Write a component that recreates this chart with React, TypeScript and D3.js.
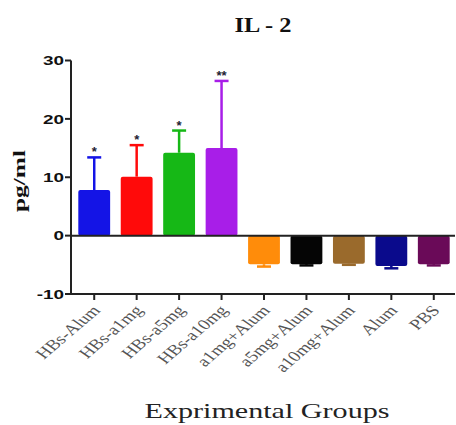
import React from 'react';
import * as d3 from 'd3';

const groups = ['HBs-Alum', 'HBs-a1mg', 'HBs-a5mg', 'HBs-a10mg', 'a1mg+Alum', 'a5mg+Alum', 'a10mg+Alum', 'Alum', 'PBS'];
const means = [7.8, 10.1, 14.2, 15.0, -4.9, -4.9, -4.8, -5.2, -4.9];
const errTops = [13.4, 15.5, 18.0, 26.5, -5.3, -5.1, -5.0, -5.6, -5.1];
const stars = ['*', '*', '*', '**', '', '', '', '', ''];
const colors = ['#1414e6', '#ff0a0a', '#16b816', '#a81ee8', '#ff8c0a', '#050505', '#9a6a2c', '#0a0a8c', '#6a0a58'];
const yTicks = [-10, 0, 10, 20, 30];

const W = 456;
const H = 425;

const App: React.FC = () => {
  const x = d3.scaleBand<string>().domain(groups).range([73, 455]).paddingInner(0.25).paddingOuter(0.125);
  const y = d3.scaleLinear().domain([-10, 30]).range([294, 60.5]);
  const bw = x.bandwidth();
  const axisColor = '#222';

  return (
    <svg width={W} height={H} style={{ position: 'absolute', left: 0, top: 0, background: '#fff' }}>
      <text x={263} y={32} textAnchor="middle" fontFamily="Liberation Serif, serif" fontWeight="bold" fontSize={20} textLength={57} lengthAdjust="spacingAndGlyphs" fill="#111">IL - 2</text>

      {/* bars */}
      {groups.map((g, i) => {
        const x0 = x(g)!;
        const yTop = y(Math.max(0, means[i]));
        const yBot = y(Math.min(0, means[i]));
        const cx = x0 + bw / 2;
        return (
          <g key={g}>
            <line x1={cx} x2={cx} y1={y(means[i])} y2={y(errTops[i])} stroke={colors[i]} strokeWidth={2.5} />
            <line x1={cx - 7} x2={cx + 7} y1={y(errTops[i])} y2={y(errTops[i])} stroke={colors[i]} strokeWidth={2.5} />
            <rect x={x0} y={yTop} width={bw} height={yBot - yTop} fill={colors[i]} rx={2} />
            {stars[i] && (
              <text x={cx} y={y(errTops[i]) - 1} textAnchor="middle" fontFamily="Liberation Sans, sans-serif" fontSize={13} fontWeight="bold" fill="#223">{stars[i]}</text>
            )}
          </g>
        );
      })}

      {/* zero line */}
      <line x1={71} x2={455} y1={y(0)} y2={y(0)} stroke={axisColor} strokeWidth={2} />

      {/* y axis */}
      <line x1={71} x2={71} y1={y(30)} y2={y(-10) + 1} stroke={axisColor} strokeWidth={2} />
      {yTicks.map(t => (
        <g key={t}>
          <line x1={65} x2={71} y1={y(t)} y2={y(t)} stroke={axisColor} strokeWidth={2} />
          <g transform={`translate(64,${y(t)}) scale(1.4,1)`}>
            <text x={0} y={0} dy="0.36em" textAnchor="end" fontFamily="Liberation Sans, Arial, sans-serif" fontWeight="bold" fontSize={13.5} fill="#111">{t}</text>
          </g>
        </g>
      ))}

      {/* x axis */}
      <line x1={70} x2={455} y1={y(-10)} y2={y(-10)} stroke={axisColor} strokeWidth={2} />
      {groups.map(g => {
        const cx = x(g)! + bw / 2;
        return (
          <g key={g}>
            <line x1={cx} x2={cx} y1={y(-10)} y2={y(-10) + 6} stroke={axisColor} strokeWidth={2} />
            <g transform={`translate(${cx + 7},${y(-10) + 17}) scale(1.3,1) rotate(-48)`}>
              <text x={0} y={0} textAnchor="end" fontFamily="Liberation Serif, serif" fontSize={15} fill="#555">{g}</text>
            </g>
          </g>
        );
      })}

      <text transform={`translate(25,181) rotate(-90)`} textAnchor="middle" fontFamily="Liberation Serif, serif" fontWeight="bold" fontSize={17} textLength={62} lengthAdjust="spacingAndGlyphs" fill="#111">pg/ml</text>
      <text x={267} y={418} textAnchor="middle" fontFamily="Liberation Serif, serif" fontSize={22} textLength={245} lengthAdjust="spacingAndGlyphs" fill="#222">Exprimental Groups</text>
    </svg>
  );
};

export default App;
